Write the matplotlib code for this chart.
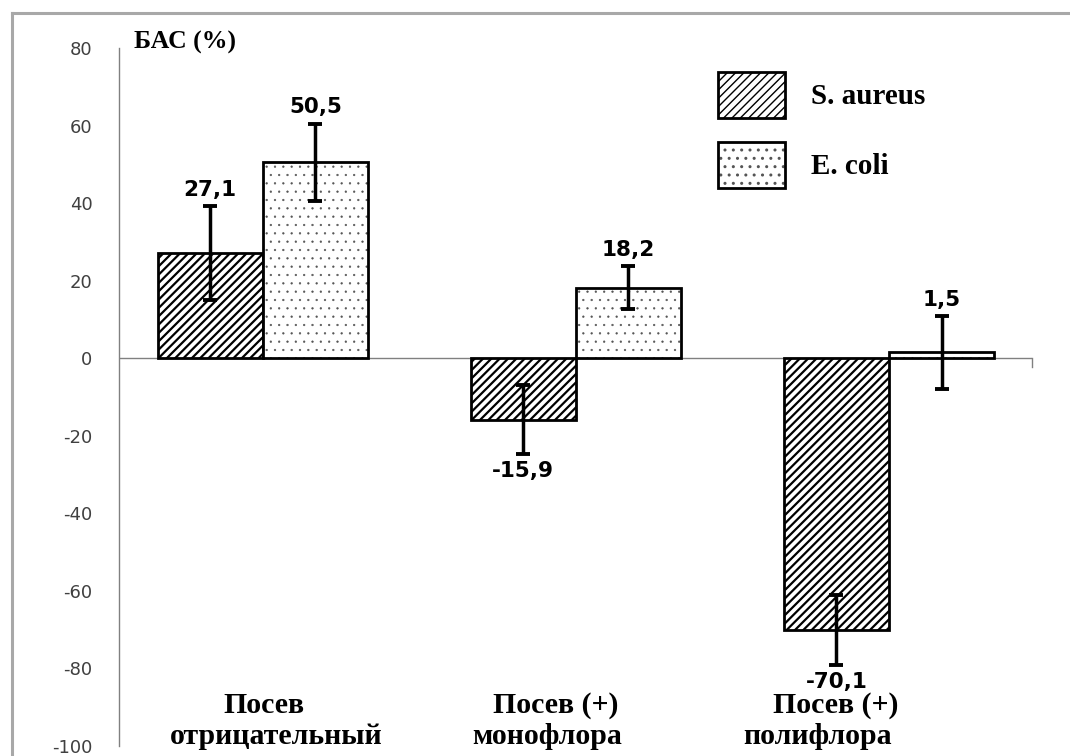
import numpy as np
import matplotlib
matplotlib.use('Agg')
import matplotlib.pyplot as plt
from matplotlib.lines import Line2D
from matplotlib.legend_handler import HandlerTuple

# datos
cat_linea1 = ['Посев', 'Посев (+)', 'Посев (+)']
cat_linea2 = ['отрицательный', 'монофлора', 'полифлора']
s_aureus = [27.1, -15.9, -70.1]
e_coli = [50.5, 18.2, 1.5]
s_aureus_err = [12.2, 8.9, 9.0]
e_coli_err = [10.0, 5.6, 9.4]
series = ['S. aureus', 'E. coli']
yticks = [-100, -80, -60, -40, -20, 0, 20, 40, 60, 80]

plt.rcParams['axes.unicode_minus'] = False

fig = plt.figure(figsize=(10.7, 7.56), dpi=100)
ax = fig.add_axes([0.111, 0.0132, 0.8535, 0.9233])

x = np.arange(len(cat_linea1))
w = 0.336

with plt.rc_context({'hatch.linewidth': 1.6}):
    b1 = ax.bar(x - w/2, s_aureus, w, color='white', edgecolor='black', linewidth=2,
                hatch='////')
    for p in b1:
        if hasattr(p, 'set_hatch_linewidth'):
            p.set_hatch_linewidth(1.6)
with plt.rc_context({'hatch.linewidth': 0.4}):
    b2 = ax.bar(x + w/2, e_coli, w, color='white', edgecolor='#555555', linewidth=0,
                hatch='..')
    for p in b2:
        if hasattr(p, 'set_hatch_linewidth'):
            p.set_hatch_linewidth(0.4)
b2e = ax.bar(x + w/2, e_coli, w, fill=False, edgecolor='black', linewidth=2)

ax.errorbar(x - w/2, s_aureus, yerr=s_aureus_err, fmt='none', ecolor='black',
            elinewidth=2.5, capsize=5, capthick=2.8)
ax.errorbar(x + w/2, e_coli, yerr=e_coli_err, fmt='none', ecolor='black',
            elinewidth=2.5, capsize=5, capthick=2.8)

# etiquetas de valores
for xs, vals, errs in [(x - w/2, s_aureus, s_aureus_err), (x + w/2, e_coli, e_coli_err)]:
    for xi, v, e in zip(xs, vals, errs):
        txt = str(v).replace('.', ',')
        if v >= 0:
            ax.text(xi, v + e + 1.6, txt, ha='center', va='bottom', fontsize=15.5,
                    fontweight='bold', family='DejaVu Sans')
        else:
            ax.text(xi, v - e - 1.8, txt, ha='center', va='top', fontsize=15.5,
                    fontweight='bold', family='DejaVu Sans')

# etiquetas de categorias
desp1 = [0.005, -0.064, -0.169]
desp2 = [0.042, -0.093, -0.227]
for xi, d1, d2, l1, l2 in zip(x, desp1, desp2, cat_linea1, cat_linea2):
    ax.text(xi + d1, -91.4, l1, ha='center', va='baseline', fontsize=21.5,
            fontweight='bold', family='Liberation Serif')
    ax.text(xi + d2, -99.5, l2, ha='center', va='baseline', fontsize=21.5,
            fontweight='bold', family='Liberation Serif')

ax.set_xlim(-0.46, 2.457)
ax.set_ylim(-100, 80)
ax.set_yticks(yticks)
ax.set_xticks([])
ax.tick_params(axis='y', length=0, pad=19, labelsize=13, labelcolor='#404040')
for s in ['top', 'right', 'bottom']:
    ax.spines[s].set_visible(False)
ax.spines['left'].set_color('#808080')
ax.spines['left'].set_linewidth(1.0)
ax.axhline(0, color='#808080', linewidth=1.0, zorder=0)
ax.plot([2.457, 2.457], [0, -2.2], color='#808080', linewidth=1.0, clip_on=False)

ax.text(0.017, 1.0086, 'БАС (%)', transform=ax.transAxes, ha='left', va='center',
        fontsize=18.5, fontweight='bold', family='Liberation Serif')

ax.legend([b1[0], (b2[0], b2e[0])], series, handler_map={tuple: HandlerTuple(ndivide=1)},
          loc='upper left', bbox_to_anchor=(718/1070, 1 - 72/756),
          bbox_transform=fig.transFigure, frameon=False, borderpad=0, borderaxespad=0,
          handlelength=2.3, handleheight=2.05, labelspacing=0.83, handletextpad=0.9,
          prop={'family': 'Liberation Serif', 'weight': 'bold', 'size': 21})

# marco gris
fig.add_artist(Line2D([12/1070, 1], [1 - 13/756, 1 - 13/756], color='#a8a8a8', linewidth=2.2))
fig.add_artist(Line2D([12/1070, 12/1070], [0, 1 - 13/756], color='#a8a8a8', linewidth=2.2))

plt.savefig('out.png', dpi=100)
